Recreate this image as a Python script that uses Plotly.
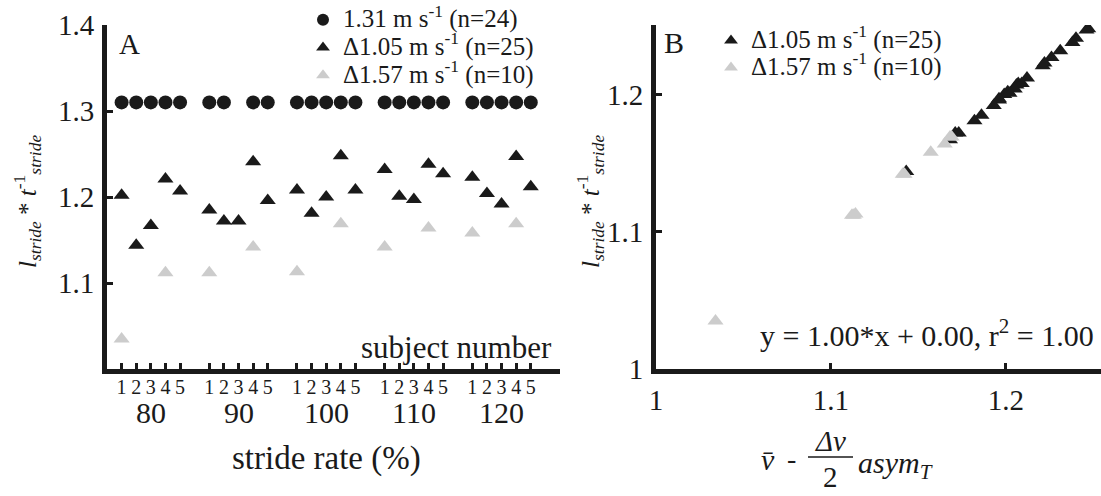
import plotly.graph_objects as go

W, H = 1101, 496
FONT = "Liberation Serif"

# ---------------- data ----------------
subject_labels = ["1", "2", "3", "4", "5"]
stride_rate_labels = ["80", "90", "100", "110", "120"]
group_centre_pos = [3, 9, 15, 21, 27]
subject_pos = [1, 2, 3, 4, 5, 7, 8, 9, 10, 11, 13, 14, 15, 16, 17,
               19, 20, 21, 22, 23, 25, 26, 27, 28, 29]
subject_tick_text = subject_labels * 5

# 1.31 m/s (tied belt), n=24
circ_pos = [1, 2, 3, 4, 5, 7, 8, 10, 11, 13, 14, 15, 16, 17,
            19, 20, 21, 22, 23, 25, 26, 27, 28, 29]
circ_val = [1.31, 1.31, 1.31, 1.31, 1.31, 1.31, 1.31, 1.31, 1.31, 1.31, 1.31, 1.31,
            1.31, 1.31, 1.31, 1.31, 1.31, 1.31, 1.31, 1.31, 1.31, 1.31, 1.31, 1.31]

# delta 1.05 m/s, n=25
blk_pos = subject_pos
blk_val = [1.202, 1.144, 1.167, 1.221, 1.207,
           1.185, 1.172, 1.172, 1.241, 1.196,
           1.208, 1.181, 1.200, 1.248, 1.208,
           1.232, 1.201, 1.197, 1.238, 1.227,
           1.223, 1.204, 1.192, 1.247, 1.212]

# delta 1.57 m/s, n=10
gry_pos = [1, 4, 7, 10, 13, 16, 19, 22, 25, 28]
gry_val = [1.035, 1.112, 1.112, 1.142, 1.113, 1.169, 1.142, 1.164, 1.158, 1.169]

# panel B: predicted (x) vs measured (y)
blk_pred = [1.201, 1.143, 1.168, 1.221, 1.206,
            1.186, 1.171, 1.173, 1.240, 1.196,
            1.207, 1.182, 1.199, 1.247, 1.209,
            1.231, 1.202, 1.196, 1.238, 1.226,
            1.222, 1.205, 1.193, 1.246, 1.212]
gry_pred = [1.034, 1.112, 1.113, 1.141, 1.114, 1.168, 1.142, 1.165, 1.157, 1.169]

legend_names_A = ["1.31 m s<sup>-1</sup> (n=24)", "Δ1.05 m s<sup>-1</sup> (n=25)",
                  "Δ1.57 m s<sup>-1</sup> (n=10)"]
legend_names_B = ["Δ1.05 m s<sup>-1</sup> (n=25)", "Δ1.57 m s<sup>-1</sup> (n=10)"]

BLACK = "#1a1a1a"
GRAY = "#cccccc"


def big(t):
    return '<span style="font-size:25px">' + t + "</span>"


fig = go.Figure()

# ---- panel A ----
fig.add_trace(go.Scatter(x=circ_pos, y=circ_val, mode="markers", xaxis="x", yaxis="y",
                         name=big(legend_names_A[0]), legend="legend",
                         marker=dict(symbol="circle", size=14, color=BLACK)))
fig.add_trace(go.Scatter(x=blk_pos, y=blk_val, mode="markers", xaxis="x", yaxis="y",
                         name=big(legend_names_A[1]), legend="legend",
                         marker=dict(symbol="triangle-up", size=14, color=BLACK)))
fig.add_trace(go.Scatter(x=gry_pos, y=gry_val, mode="markers", xaxis="x", yaxis="y",
                         name=big(legend_names_A[2]), legend="legend",
                         marker=dict(symbol="triangle-up", size=14, color=GRAY)))

# ---- panel B ----
fig.add_trace(go.Scatter(x=blk_pred, y=blk_val, mode="markers", xaxis="x2", yaxis="y2",
                         name=big(legend_names_B[0]), legend="legend2",
                         marker=dict(symbol="triangle-up", size=14, color=BLACK)))
fig.add_trace(go.Scatter(x=gry_pred, y=gry_val, mode="markers", xaxis="x2", yaxis="y2",
                         name=big(legend_names_B[1]), legend="legend2",
                         marker=dict(symbol="triangle-up", size=14, color=GRAY)))


def px(x):
    return x / W


def py(y):
    return 1 - y / H


axis_common = dict(showgrid=False, zeroline=False, showline=True, linecolor=BLACK,
                   linewidth=5, ticks="inside", ticklen=6, tickwidth=3, tickcolor=BLACK,
                   automargin=False,
                   tickfont=dict(family=FONT, size=29, color=BLACK))

fig.update_layout(
    template="none",
    width=W, height=H, margin=dict(l=0, r=0, t=0, b=0, pad=0),
    paper_bgcolor="white", plot_bgcolor="white",
    font=dict(family=FONT, color=BLACK),
    xaxis=dict(axis_common, domain=[px(107), px(560)], range=[0, 31], anchor="y",
               tickmode="array", tickvals=subject_pos, ticktext=subject_tick_text,
               tickfont=dict(family=FONT, size=20, color=BLACK), ticklabelstandoff=-4),
    yaxis=dict(axis_common, domain=[py(369), py(25)], range=[1.0, 1.4], anchor="x",
               tickmode="array", tickvals=[1.1, 1.2, 1.3, 1.4],
               ticktext=["1.1", "1.2", "1.3", "1.4"], ticklabelstandoff=2),
    xaxis2=dict(axis_common, domain=[px(656), 1.0], range=[1.0, 1.2543], anchor="y2",
                tickmode="array", tickvals=[1.0, 1.1, 1.2], ticktext=["1", "1.1", "1.2"],
                ticklabelstandoff=1),
    yaxis2=dict(axis_common, domain=[py(369), py(25)], range=[1.0, 1.2507], anchor="x2",
                tickmode="array", tickvals=[1.0, 1.1, 1.2], ticktext=["1", "1.1", "1.2"],
                ticklabelstandoff=2),
    legend=dict(x=px(303), y=py(1), xanchor="left", yanchor="top",
                font=dict(family=FONT, size=19, color=BLACK), bgcolor="rgba(0,0,0,0)",
                borderwidth=0, tracegroupgap=0, itemsizing="constant"),
    legend2=dict(x=px(711), y=py(22), xanchor="left", yanchor="top",
                 font=dict(family=FONT, size=18.5, color=BLACK), bgcolor="rgba(0,0,0,0)",
                 borderwidth=0, tracegroupgap=0, itemsizing="constant"),
    showlegend=True,
)

ann = []
# stride-rate group labels under subject numbers
for pos, lab in zip(group_centre_pos, stride_rate_labels):
    ann.append(dict(x=pos, y=py(412), xref="x", yref="paper", text=lab,
                    font=dict(size=30)))
ann += [
    dict(x=px(326), y=py(458), text="stride rate (%)", font=dict(size=33)),
    dict(x=px(554), y=py(347), text="subject number", xanchor="right", font=dict(size=31)),
    dict(x=px(117), y=py(44), text="A", xanchor="left", font=dict(size=29)),
    dict(x=px(662), y=py(42), text="B", xanchor="left", font=dict(size=30)),
    dict(x=px(1096), y=py(333), text="y = 1.00*x + 0.00, r<sup>2</sup> = 1.00",
         xanchor="right", font=dict(size=30)),
    dict(x=px(27), y=py(202), textangle=-90,
         text="<i>l</i><sub><i>stride</i></sub> * <i>t</i><sup>-1</sup><sub><i>stride</i></sub>",
         font=dict(size=25)),
    dict(x=px(590), y=py(202), textangle=-90,
         text="<i>l</i><sub><i>stride</i></sub> * <i>t</i><sup>-1</sup><sub><i>stride</i></sub>",
         font=dict(size=25)),
    # x-axis title of panel B: v-bar - (Δv / 2) asym_T
    dict(x=px(768), y=py(459), text="<i>v\u0304</i>", font=dict(size=30)),
    dict(x=px(791), y=py(458), text="-", font=dict(size=28)),
    dict(x=px(830), y=py(441), text="<i>Δv</i>", font=dict(size=29)),
    dict(x=px(830), y=py(477), text="2", font=dict(size=29)),
    dict(x=px(856), y=py(465), text="<i>asym</i><sub><i>T</i></sub>", xanchor="left",
         font=dict(size=30)),
]
for a in ann:
    a.setdefault("xref", "paper")
    a.setdefault("yref", "paper")
    a.setdefault("xanchor", "center")
    a["yanchor"] = "middle"
    a["showarrow"] = False
    a["font"] = dict(family=FONT, color=BLACK, size=a["font"]["size"])
fig.update_layout(annotations=ann)

fig.add_shape(type="line", xref="paper", yref="paper", x0=px(808), x1=px(853),
              y0=py(457), y1=py(457), line=dict(color=BLACK, width=1.5))

fig.write_html("out.html", config={"displayModeBar": False, "staticPlot": True},
               post_script="document.body.style.margin='0px';"
                           "document.body.style.overflow='hidden';")
